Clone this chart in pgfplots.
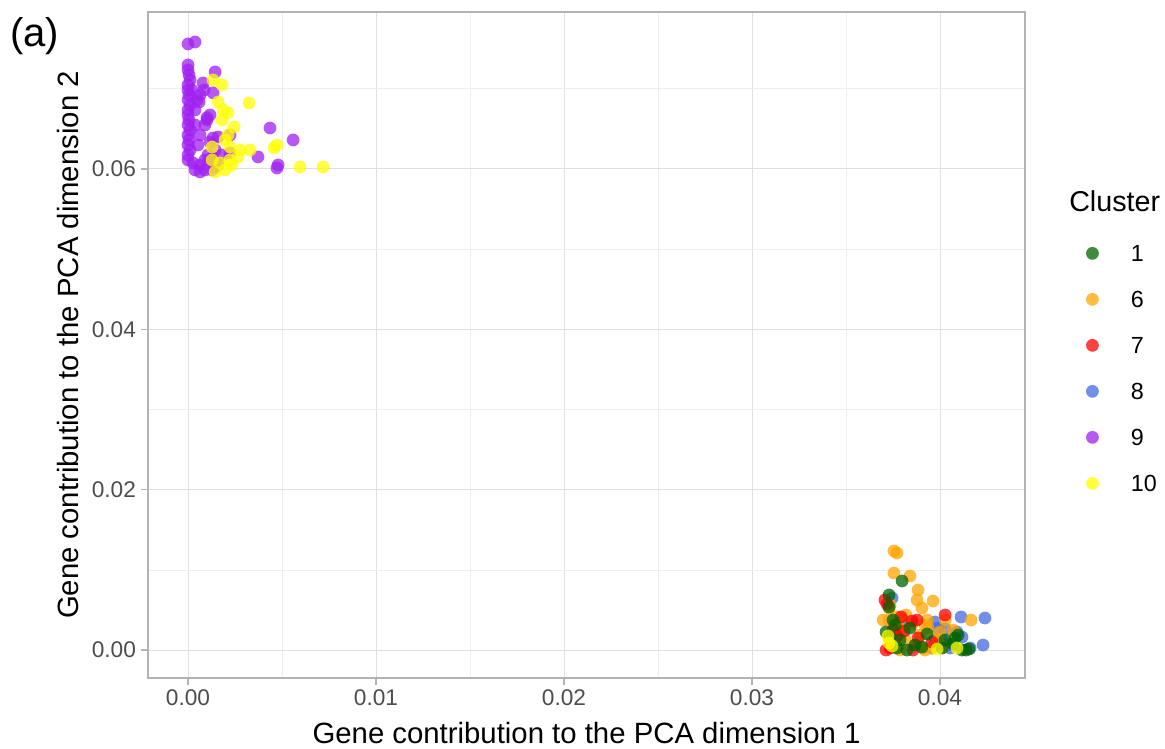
\documentclass[border=0pt]{standalone}
\usepackage{pgfplots}
\pgfplotsset{compat=1.18}
\usepackage{fontspec}
\setmainfont{Liberation Sans}
\definecolor{c1}{HTML}{006400}
\definecolor{c6}{HTML}{FFA500}
\definecolor{c7}{HTML}{FF0000}
\definecolor{c8}{HTML}{4169E1}
\definecolor{c9}{HTML}{A020F0}
\definecolor{c10}{HTML}{FFFF00}
\definecolor{gridmaj}{HTML}{E0E0E0}
\definecolor{gridmin}{HTML}{EEEEEE}
\definecolor{frame}{HTML}{B3B3B3}
\definecolor{ticktext}{HTML}{4D4D4D}
\pgfplotsset{
  cl/.style={color=#1, only marks, mark=*, mark size=4.8pt, mark options={draw opacity=0, fill=#1, fill opacity=0.75}},
}
\begin{document}
\begin{tikzpicture}
\useasboundingbox (0,0) rectangle (873.75pt,561.75pt);
\begin{axis}[
  at={(111pt,53.25pt)}, anchor=south west,
  width=657.75pt, height=499.5pt, scale only axis,
  xmin=-0.00213, xmax=0.04452, ymin=-0.00349, ymax=0.07958,
  scaled x ticks=false, scaled y ticks=false,
  xtick={0,0.01,0.02,0.03,0.04},
  xticklabels={0.00,0.01,0.02,0.03,0.04},
  minor xtick={0.005,0.015,0.025,0.035},
  ytick={0,0.02,0.04,0.06},
  yticklabels={0.00,0.02,0.04,0.06},
  minor ytick={0.01,0.03,0.05,0.07},
  grid=both,
  major grid style={gridmaj, line width=0.75pt},
  minor grid style={gridmin, line width=0.5pt},
  axis line style={frame, line width=0.9pt},
  tick style={frame, line width=0.9pt},
  tick align=outside, major tick length=5.5pt, minor tick length=0pt,
  xtick pos=lower, ytick pos=left,
  ticklabel style={font=\fontsize{17}{20}\selectfont, text=ticktext},
  xlabel={Gene contribution to the PCA dimension 1},
  ylabel={Gene contribution to the PCA dimension 2},
  xlabel style={at={(axis description cs:0.5,-0.0826)}, anchor=center, font=\fontsize{22}{25}\selectfont},
  ylabel style={at={(axis description cs:-0.0912,0.5)}, anchor=center, font=\fontsize{22}{25}\selectfont},
  legend image code/.code={\draw[#1] plot coordinates {(0pt,6.2pt)};},
  legend cell align=left,
  legend style={at={(axis description cs:1.0696,0.6502)}, anchor=north west,
    draw=none, fill=none, inner sep=0pt, outer sep=0pt,
    row sep=22pt, column sep=24pt,
    font=\fontsize{17.5}{20}\selectfont,
    nodes={inner sep=0pt, text height=12.5pt, text depth=0pt, anchor=base west}},
]
\addlegendimage{cl=c1}\addlegendentry{1}
\addlegendimage{cl=c6}\addlegendentry{6}
\addlegendimage{cl=c7}\addlegendentry{7}
\addlegendimage{cl=c8}\addlegendentry{8}
\addlegendimage{cl=c9}\addlegendentry{9}
\addlegendimage{cl=c10}\addlegendentry{10}
% cluster 8
\addplot[cl=c8, forget plot] coordinates {
(0.03745,0.00649)(0.03803,0.00374)(0.03973,0.00349)(0.04112,0.00412)
(0.04239,0.00399)(0.03989,0.00274)(0.04027,0.00262)(0.04090,0.00225)
(0.04117,0.00162)(0.04011,0.00125)(0.03957,0.00025)(0.04053,0.00025)
(0.04229,0.00062)(0.04160,0.00025)(0.04037,0.00062)(0.04000,0.00087)
(0.03973,0.00125)
};
% cluster 6
\addplot[cl=c6, forget plot] coordinates {
(0.03755,0.01235)(0.03771,0.01210)(0.03755,0.00960)(0.03840,0.00923)
(0.03883,0.00748)(0.03878,0.00624)(0.03963,0.00611)(0.03787,0.00249)
(0.03729,0.00374)(0.03819,0.00437)(0.03771,0.00412)(0.03851,0.00324)
(0.03920,0.00312)(0.03989,0.00125)(0.03957,0.00025)(0.03920,0.00000)
(0.04069,0.00249)(0.04165,0.00374)(0.03697,0.00374)(0.03734,0.00561)
(0.03814,0.00125)(0.03867,0.00062)(0.04000,0.00225)(0.03734,0.00125)
(0.03894,0.00187)(0.03787,0.00000)(0.04027,0.00374)(0.03904,0.00524)
(0.03729,0.00524)(0.03931,0.00374)(0.03936,0.00274)(0.03777,0.00312)
(0.04011,0.00037)(0.03910,0.00025)
};
% cluster 7
\addplot[cl=c7, forget plot] coordinates {
(0.03707,0.00624)(0.03718,0.00574)(0.03793,0.00412)(0.03851,0.00362)
(0.03878,0.00374)(0.04027,0.00437)(0.03713,0.00000)(0.03734,0.00025)
(0.03809,0.00237)(0.03771,0.00175)(0.03883,0.00150)(0.03856,0.00000)
(0.03750,0.00249)(0.03957,0.00100)
};
% cluster 1
\addplot[cl=c1, forget plot] coordinates {
(0.03798,0.00861)(0.03729,0.00686)(0.03729,0.00536)(0.03750,0.00374)
(0.03761,0.00312)(0.03840,0.00274)(0.03734,0.00162)(0.03787,0.00125)
(0.03824,0.00000)(0.03867,0.00062)(0.03931,0.00200)(0.03904,0.00037)
(0.04027,0.00125)(0.04069,0.00075)(0.04096,0.00187)(0.04117,0.00000)
(0.04138,0.00000)(0.04154,0.00012)(0.03713,0.00225)(0.04011,0.00025)
(0.04080,0.00150)(0.03771,0.00025)
};
% cluster 10 (bottom part)
\addplot[cl=c10, forget plot] coordinates {
(0.03729,0.00087)(0.03745,0.00050)(0.03984,0.00012)(0.04090,0.00025)
(0.03723,0.00175)
};
% cluster 9
\addplot[cl=c9, forget plot] coordinates {
(0.00000,0.07559)(0.00037,0.07584)(0.00000,0.07297)(0.00000,0.07235)
(0.00005,0.07173)(0.00011,0.07110)(0.00000,0.07048)(0.00000,0.06985)
(0.00005,0.06923)(0.00000,0.06861)(0.00011,0.06798)(0.00000,0.06736)
(0.00000,0.06674)(0.00005,0.06611)(0.00000,0.06549)(0.00011,0.06486)
(0.00000,0.06424)(0.00005,0.06362)(0.00000,0.06299)(0.00011,0.06237)
(0.00000,0.06175)(0.00000,0.06112)(0.00027,0.06075)(0.00037,0.05988)
(0.00064,0.06050)(0.00090,0.06112)(0.00106,0.06175)(0.00053,0.06299)
(0.00064,0.06424)(0.00090,0.06549)(0.00117,0.06674)(0.00144,0.07210)
(0.00048,0.06861)(0.00064,0.06923)(0.00085,0.06985)(0.00080,0.07073)
(0.00133,0.06387)(0.00160,0.06399)(0.00117,0.06337)(0.00101,0.06611)
(0.00037,0.06736)(0.00037,0.06549)(0.00223,0.06424)(0.00223,0.06200)
(0.00128,0.06137)(0.00144,0.06025)(0.00128,0.05988)(0.00160,0.06050)
(0.00436,0.06511)(0.00559,0.06362)(0.00372,0.06150)(0.00479,0.06050)
(0.00473,0.06012)(0.00117,0.06112)(0.00090,0.05988)(0.00064,0.05963)
(0.00181,0.06175)(0.00021,0.06985)(0.00059,0.06836)(0.00144,0.06237)
(0.00133,0.06950)(0.00101,0.06640)
};
% cluster 10 (top part)
\addplot[cl=c10, forget plot] coordinates {
(0.00133,0.07110)(0.00160,0.06836)(0.00324,0.06823)(0.00213,0.06699)
(0.00181,0.06611)(0.00245,0.06524)(0.00128,0.06274)(0.00223,0.06274)
(0.00330,0.06237)(0.00473,0.06299)(0.00457,0.06262)(0.00596,0.06025)
(0.00718,0.06025)(0.00170,0.06075)(0.00234,0.06050)(0.00197,0.05988)
(0.00144,0.05963)(0.00223,0.06112)(0.00277,0.06237)(0.00197,0.06362)
(0.00186,0.06736)(0.00181,0.07048)(0.00266,0.06150)(0.00128,0.06112)
(0.00213,0.06424)
};
\end{axis}
\node[anchor=base west, inner sep=0pt, font=\fontsize{21.5}{24}\selectfont] at (801.75pt,402.75pt) {Cluster};
\node[anchor=west, inner sep=0pt, font=\fontsize{30}{34}\selectfont] at (7.5pt,534.75pt) {(a)};
\end{tikzpicture}
\end{document}
